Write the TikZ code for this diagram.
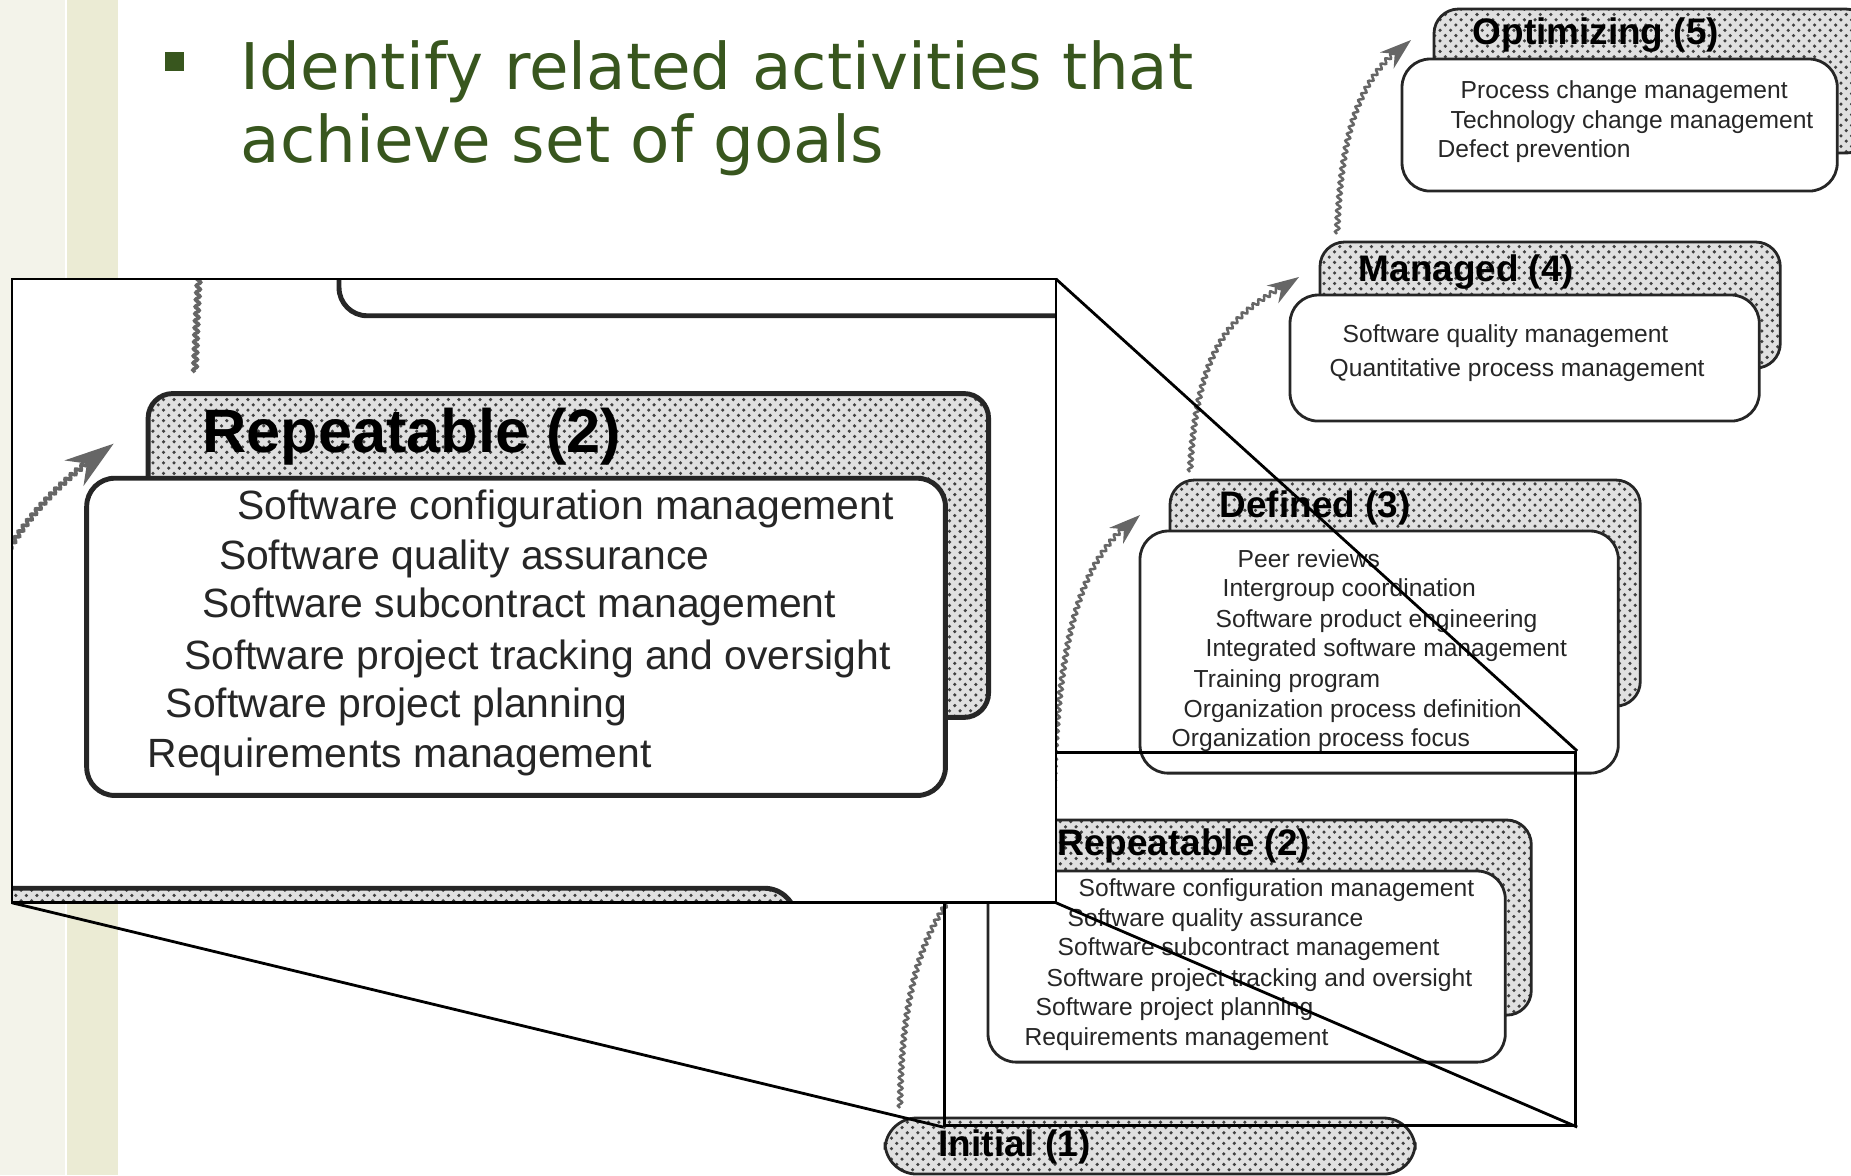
\documentclass[tikz,border=0pt]{standalone}
\usepackage{fontspec}
\setmainfont{Liberation Sans}
\newfontfamily\slidefont{DejaVu Sans}
\usetikzlibrary{arrows.meta,patterns,decorations.pathmorphing}

\definecolor{slidegreen}{RGB}{56,86,30}
\definecolor{cream}{RGB}{243,243,234}
\definecolor{sand}{RGB}{235,235,212}

\tikzset{
    edge/.style={line width=0.8pt},
    stagecard/.style={draw=black!85, edge, preaction={fill=black!12}, pattern=crosshatch dots,
        pattern color=black!75, rounded corners=7pt, inner sep=0pt, outer sep=0pt, anchor=north west},
    kpacard/.style={draw=black!85, edge, fill=white, rounded corners=8pt,
        inner sep=0pt, outer sep=0pt, anchor=north west},
    stage/.style={anchor=west, inner sep=0pt, text height=7.5pt, text depth=2pt,
        font=\fontsize{10.5}{12}\selectfont\bfseries},
    kpa/.style={anchor=west, inner sep=0pt, text=black!85, text height=5pt, text depth=1.5pt,
        font=\fontsize{7}{8}\selectfont},
    climb/.style={draw=black!60, line width=0.7pt, decorate,
        decoration={snake, amplitude=0.6pt, segment length=2pt, post length=6pt},
        -{Stealth[length=9pt, width=6pt]}},
    headline/.style={anchor=base west, inner sep=0pt, text=slidegreen,
        font=\slidefont\fontsize{18.3}{22}\selectfont},
}

% level 5
\newcommand{\optlevel}{%
    \node[stagecard, minimum width=4.36cm, minimum height=1.44cm] (opt-back) at (1434,9) {};
    \node[kpacard, minimum width=4.35cm, minimum height=1.32cm] (opt-card) at (1402,59) {};
    \node[stage] (opt-title) at (1472,35) {Optimizing (5)};
    \foreach \x/\y/\txt [count=\i] in {1460/92/Process change management,
        1450/122/Technology change management, 1437/151/Defect prevention}
        \node[kpa] (opt-\i) at (\x,\y) {\txt};
}
% level 4
\newcommand{\mgdlevel}{%
    \node[stagecard, minimum width=4.60cm, minimum height=1.26cm] (mgd-back) at (1320,242) {};
    \node[kpacard, minimum width=4.69cm, minimum height=1.26cm] (mgd-card) at (1290,295) {};
    \node[stage] (mgd-title) at (1358,272) {Managed (4)};
    \foreach \x/\y/\txt [count=\i] in {1342/336/Software quality management,
        1329/370/Quantitative process management}
        \node[kpa] (mgd-\i) at (\x,\y) {\txt};
}
% level 3, cards and texts apart
\newcommand{\deflevel}{%
    \node[stagecard, minimum width=4.70cm, minimum height=2.26cm] (def-back) at (1170,480) {};
    \node[kpacard, minimum width=4.78cm, minimum height=2.42cm] (def-card) at (1140,531) {};
}
\newcommand{\defitems}{%
    \node[stage] (def-title) at (1219,508) {Defined (3)};
    \foreach \x/\y/\txt [count=\i] in {1237/561/Peer reviews,
        1222/590/Intergroup coordination, 1215/621/Software product engineering,
        1205/650/Integrated software management, 1193/681/Training program,
        1183/711/Organization process definition, 1171/740/Organization process focus}
        \node[kpa] (def-\i) at (\x,\y) {\txt};
}
% level 2
\newcommand{\replevel}{%
    \node[stagecard, minimum width=5.06cm, minimum height=1.95cm] (rep-back) at (1025,820) {};
    \node[kpacard, minimum width=5.17cm, minimum height=1.91cm] (rep-card) at (988,871) {};
    \node[stage] (rep-title) at (1057,846) {Repeatable (2)};
    \foreach \x/\y/\txt [count=\i] in {1078/890/Software configuration management,
        1067/920/Software quality assurance, 1057/949/Software subcontract management,
        1046/980/Software project tracking and oversight,
        1035/1009/Software project planning, 1024/1039/Requirements management}
        \node[kpa] (rep-\i) at (\x,\y) {\txt};
}
% level 1
\newcommand{\initlevel}{%
    \node[stagecard, rounded corners=9pt, minimum width=5.30cm, minimum height=0.56cm] (init) at (885,1118) {};
    \node[stage] (init-title) at (938,1147) {Initial (1)};
}
% steps up the ladder
\newcommand{\climblow}{%
    \draw[climb] ([shift={(15,-10)}]init.north west)
        .. controls +(2,-170) and +(-55,40) .. ([shift={(16,-21)}]rep-card.north west);
    \draw[climb] ([shift={(28,-13)}]rep-back.north west)
        .. controls +(5,-200) and +(-50,40) .. ([shift={(0,-16)}]def-card.north west);
}
\newcommand{\climbhigh}{%
    \draw[climb] ([shift={(20,-8)}]def-back.north west)
        .. controls +(8,-150) and +(-50,35) .. ([shift={(9,-18)}]mgd-card.north west);
    \draw[climb] ([shift={(17,-8)}]mgd-back.north west)
        .. controls +(5,-120) and +(-45,35) .. ([shift={(9,-19)}]opt-card.north west);
}

\begin{document}
\begin{tikzpicture}[x=0.01cm, y=-0.01cm]
    \useasboundingbox (0,0) rectangle (1851,1175);
    \clip (0,0) rectangle (1851,1175);

    % slide border stripes
    \fill[cream] (0,0) rectangle (65,1175);
    \fill[sand] (67,0) rectangle (118,1175);

    % bullet point
    \node[fill=slidegreen, minimum size=0.19cm, inner sep=0pt] (bullet) at (174.5,61.5) {};
    \node[headline] (goal-1) at (240,89) {Identify related activities that};
    \node[headline] (goal-2) at (240,162) {achieve set of goals};

    \optlevel
    \mgdlevel
    \deflevel
    \defitems
    \replevel
    \initlevel
    \climblow
    \climbhigh

    % region that gets magnified
    \node[draw, edge, minimum width=6.31cm, minimum height=3.73cm, inner sep=0pt, anchor=north west] (spot) at (943,751) {};

    % the lens
    \node[fill=white, minimum width=10.42cm, minimum height=6.22cm, inner sep=0pt, anchor=north west] (lens) at (12,279) {};
    \begin{scope}
        \clip (lens.south west) rectangle (lens.north east);
        \begin{scope}[shift={(12,279)}, scale=1.66, shift={(-943,-751)}, transform shape, name prefix=z-,
                edge/.style={line width=1.4pt},
                climb/.append style={line width=1pt, -{Stealth[length=14pt, width=9pt]}}]
            \deflevel
            \replevel
            \initlevel
            \climblow
        \end{scope}
    \end{scope}
    \draw[edge] (lens.south west) rectangle (lens.north east);

    \draw[edge] (lens.north east) -- (spot.north east);
    \draw[edge] (lens.south west) -- (spot.south west);
    \draw[edge] (lens.south east) -- (spot.south east);
\end{tikzpicture}
\end{document}
